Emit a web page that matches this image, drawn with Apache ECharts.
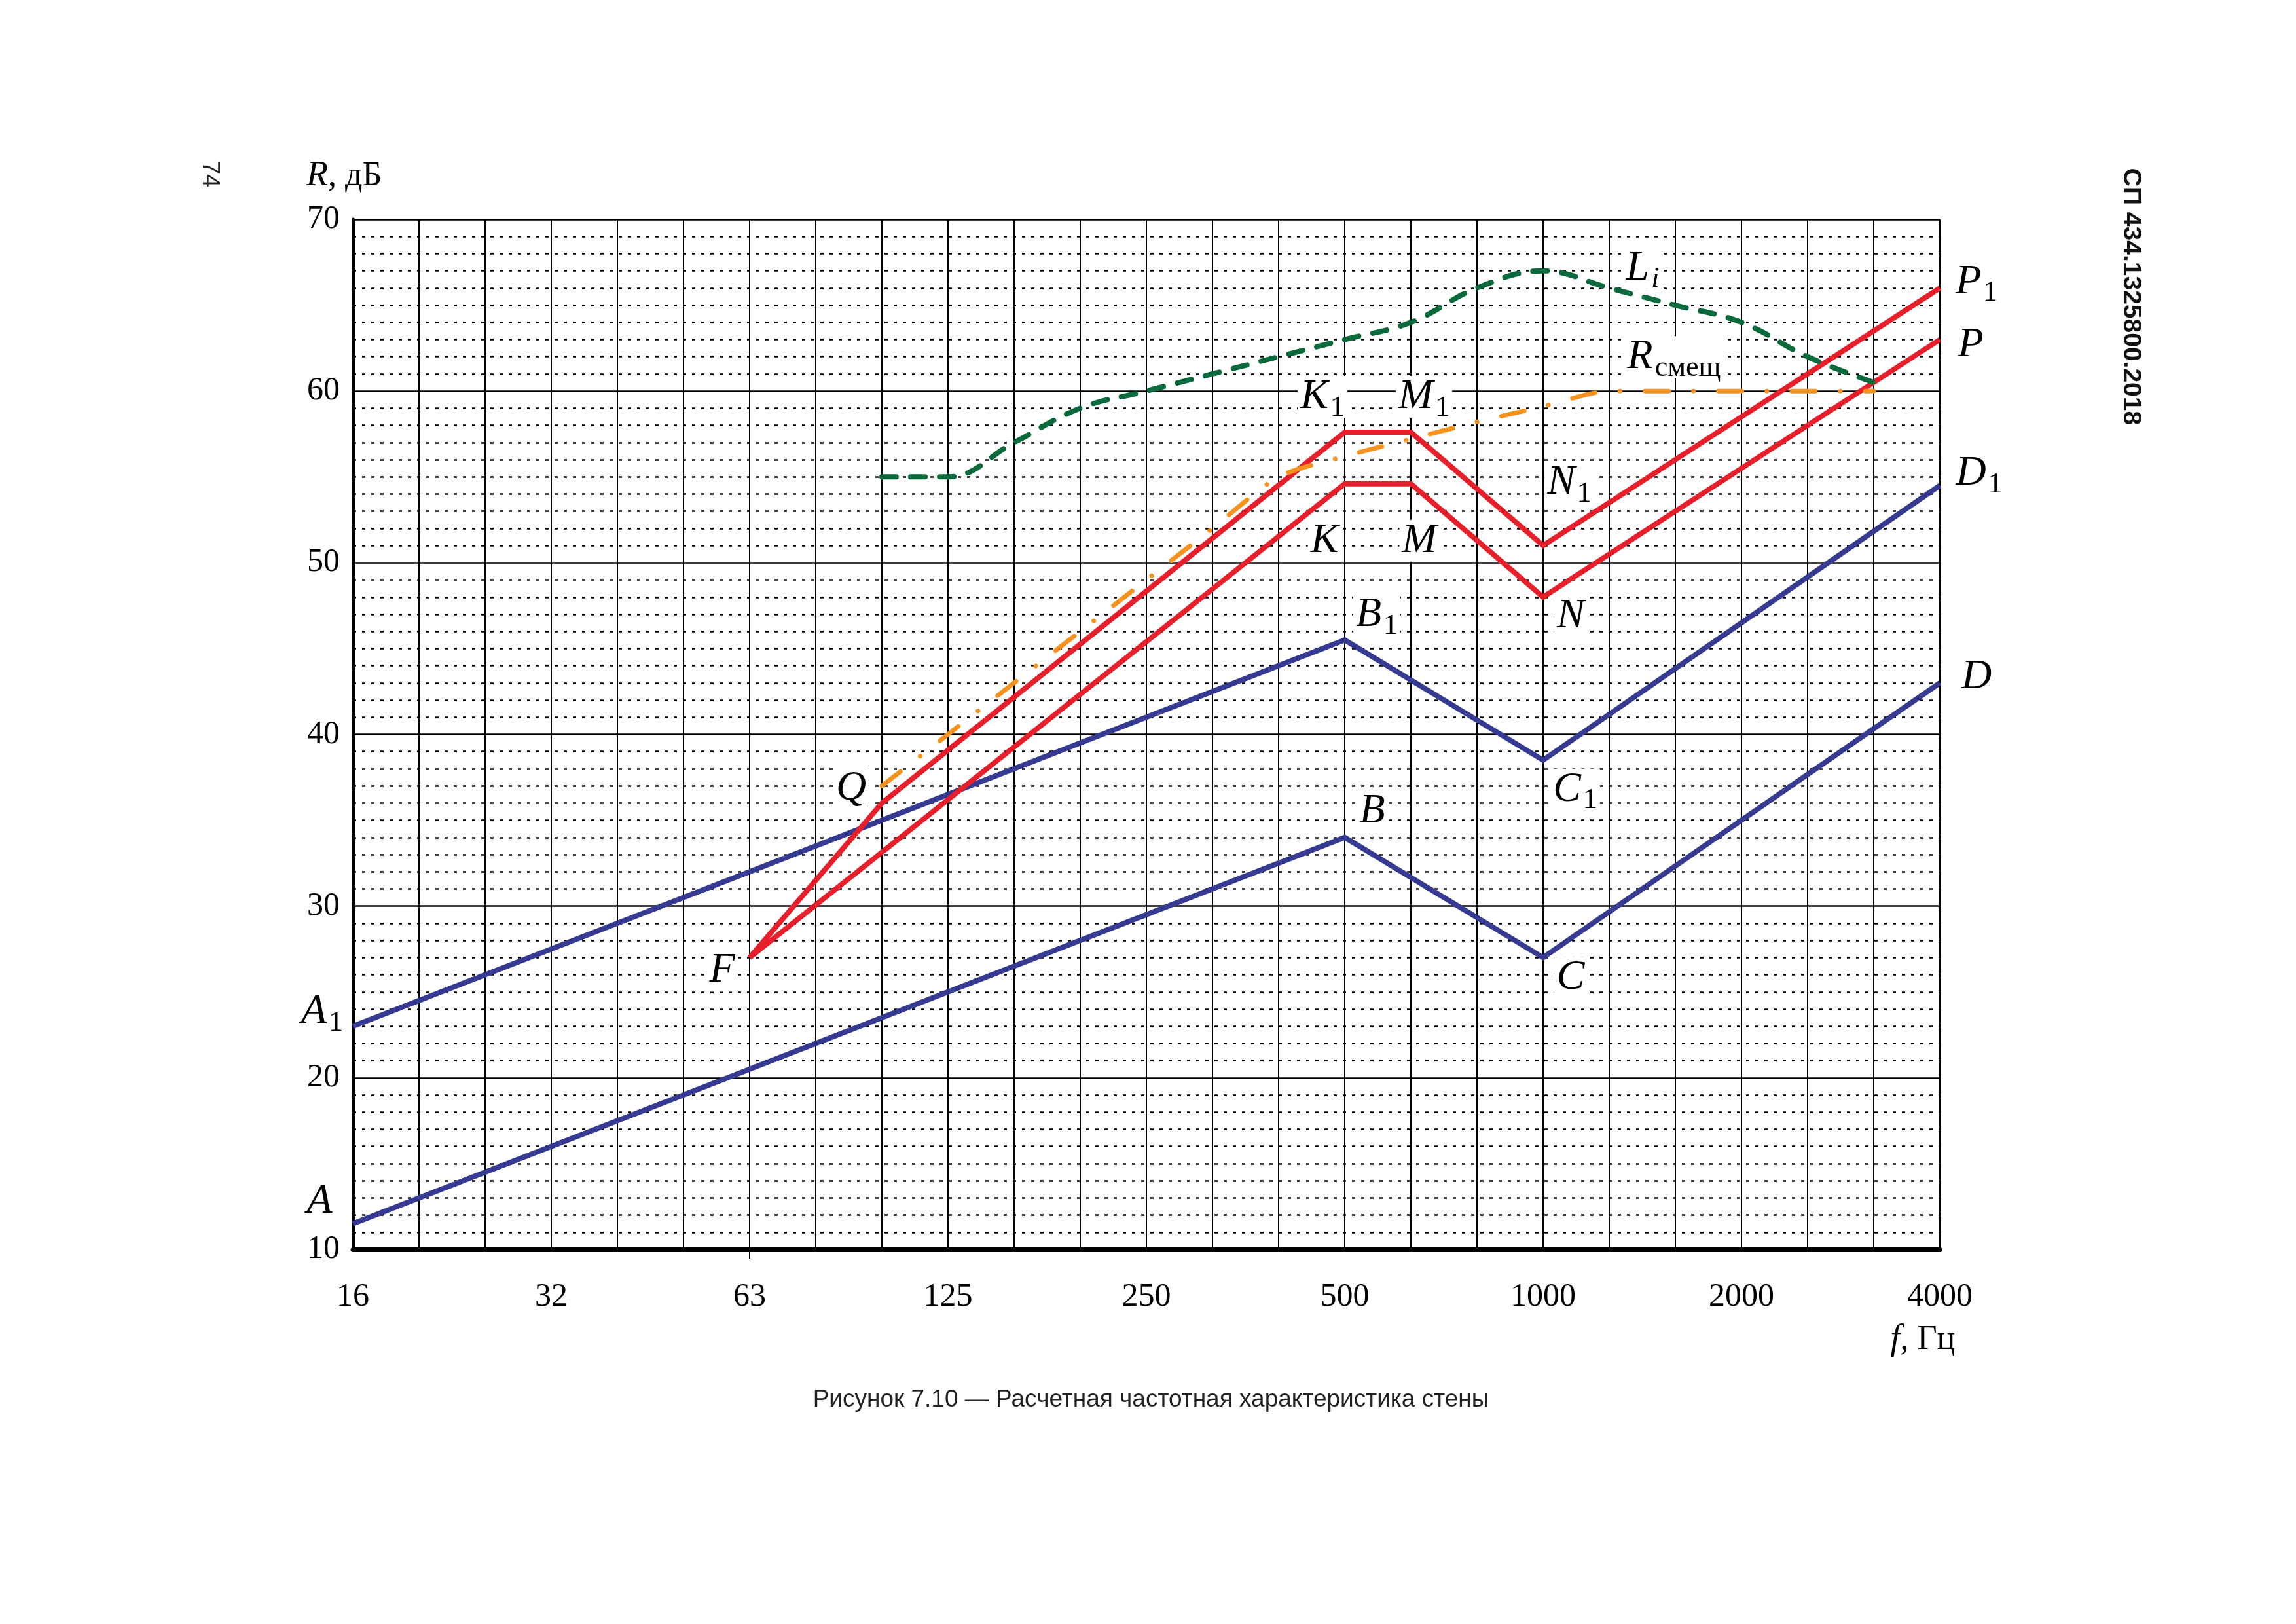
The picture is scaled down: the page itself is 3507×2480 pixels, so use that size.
<!DOCTYPE html>
<html><head><meta charset="utf-8">
<script src="https://cdn.jsdelivr.net/npm/echarts@6/dist/echarts.min.js"></script>
<style>html,body{margin:0;padding:0;background:#fff;}#c{width:3507px;height:2480px;}</style>
</head><body><div id="c"></div>
<script>
// third-octave band centres (label text as printed under the axis)
const freqBands = ['16','20','25','32','40','50','63','80','100','125','160','200','250','315','400','500','630','800','1000','1250','1600','2000','2500','3150','4000'];
const yMin = 10, yMax = 70, yStep = 10;

// single partition A-B-C-D
const abcdF = ['16','500','1000','4000'];
const abcdR = [11.5, 34, 27, 43];
const abcdNames = ['A','B','C','D'];
// single partition A1-B1-C1-D1
const a1F = ['16','500','1000','4000'];
const a1R = [23, 45.5, 38.5, 54.5];
const a1Names = ['A|1','B|1','C|1','D|1'];
// double wall F-K-M-N-P
const fkF = ['63','500','630','1000','4000'];
const fkR = [27, 54.6, 54.6, 48, 63];
const fkNames = ['F','K','M','N','P'];
// double wall F-Q-K1-M1-N1-P1
const fqF = ['63','100','500','630','1000','4000'];
const fqR = [27, 36, 57.6, 57.6, 51, 66];
const fqNames = ['','Q','K|1','M|1','N|1','P|1'];
// R смещ (dash-dot)
const rsF = ['100','125','160','200','250','315','400','500','630','800','1000','1250','1600','2000','2500','3150'];
const rsR = [37, 40, 43, 46, 49, 52, 55, 56.2, 57.2, 58.2, 59.1, 60, 60, 60, 60, 60];
// L_i (dashed)
const liF = ['100','125','160','200','250','315','400','500','630','800','1000','1250','1600','2000','2500','3150'];
const liR = [55, 55, 57, 59, 60, 61, 62, 63, 64, 66, 67, 66, 65, 64, 62, 60.5];

// label placement (pixel offsets from the point), kept apart from data
const offs = {
  A:[-51,-34], B:[42,-40], C:[42,31], D:[56,-9],
  A1:[-47,-22], B1:[49,-38], C1:[49,45], D1:[60,-18],
  F:[-42,20], K:[-31,87], M:[13,87], N:[42,29], P:[47,9],
  Q:[-47,-22], K1:[-34,-54], M1:[20,-54], N1:[40,-96], P1:[56,-9]
};

const serif = '"Liberation Serif", "DejaVu Serif", serif';
const rich = {
  m:{fontFamily:serif, fontStyle:'italic', fontSize:64, lineHeight:64, color:'#000'},
  s:{fontFamily:serif, fontSize:44, lineHeight:44, color:'#000', padding:[34,0,0,3]},
  t:{fontFamily:serif, fontStyle:'italic', fontSize:44, lineHeight:44, color:'#000', padding:[34,0,0,3]}
};
function fmt(n){ const p = n.split('|'); return '{m|' + p[0] + '}' + (p[1] ? '{s|' + p[1] + '}' : ''); }
function build(fs, rs, names){
  return fs.map((f,i)=>{
    const n = names ? names[i] : '';
    const item = {value:[f, rs[i]]};
    if (n) {
      const key = n.replace('|','');
      item.label = {show:true, formatter: fmt(n), offset: offs[key]};
    }
    return item;
  });
}
const lblBase = {show:false, position:'inside', align:'center', verticalAlign:'middle', backgroundColor:'#fff', padding:[0,4,0,4], rich:rich};
const blue = '#363a91', red = '#e61f2b', orange = '#f6921e', green = '#0b6a3b';

function lineSeries(data, color, width, z, extra){
  return Object.assign({
    type:'line', data:data, z:z, symbol:'circle', symbolSize:1, showSymbol:true,
    itemStyle:{color:'rgba(0,0,0,0)'},
    lineStyle:{color:color, width:width, join:'miter'},
    label:lblBase, emphasis:{disabled:true}, animation:false
  }, extra||{});
}

const liData = build(liF, liR, null);
liData[11].label = {show:true, formatter:'{m|L}{t|i}', offset:[51,-30]};
const rsData = build(rsF, rsR, null);
rsData[12].label = {show:true, formatter:'{m|R}{s|смещ}', offset:[-2,-52]};

const chart = echarts.init(document.getElementById('c'), null, {renderer:'canvas'});
chart.setOption({
  backgroundColor:'#fff',
  animation:false,
  grid:{left:539, top:335, width:2424, height:1573, containLabel:false},
  xAxis:{
    type:'category', data:freqBands, boundaryGap:false,
    axisLine:{show:true, onZero:false, lineStyle:{color:'#000', width:7}},
    axisTick:{show:true, interval:(i)=> i===6, length:14, inside:false, lineStyle:{color:'#000', width:2}},
    axisLabel:{interval:2, margin:48, color:'#000', fontFamily:serif, fontSize:50},
    splitLine:{show:true, interval:0, lineStyle:{color:'#000', width:2}}
  },
  yAxis:{
    type:'value', min:yMin, max:yMax, interval:yStep,
    axisLine:{show:true, lineStyle:{color:'#000', width:5}},
    axisTick:{show:false},
    axisLabel:{margin:20, color:'#000', fontFamily:serif, fontSize:50},
    splitLine:{show:true, lineStyle:{color:'#000', width:2.5}},
    minorTick:{show:false, splitNumber:10},
    minorSplitLine:{show:true, lineStyle:{color:'#000', width:2.5, type:[5,9]}}
  },
  series:[
    lineSeries(build(abcdF, abcdR, abcdNames), blue, 8, 3),
    lineSeries(build(a1F, a1R, a1Names), blue, 8, 3),
    lineSeries(build(fkF, fkR, fkNames), red, 8, 4),
    lineSeries(build(fqF, fqR, fqNames), red, 8, 4),
    lineSeries(rsData, orange, 7, 5, {smooth:0.25, lineStyle:{color:orange, width:7, type:[36,38,0.1,38], cap:'round'}}),
    lineSeries(liData, green, 8, 6, {smooth:0.4, lineStyle:{color:green, width:8, type:[22,22], cap:'round'}})
  ],
  graphic:[
    {type:'text', x:468, y:269, style:{text:'{i|R}{n|, дБ}', align:'left', verticalAlign:'middle',
      rich:{i:{fontFamily:serif, fontStyle:'italic', fontSize:54, fill:'#000'}, n:{fontFamily:serif, fontSize:52, fill:'#000'}}}},
    {type:'text', x:2937, y:2046, style:{text:'{i|f}{n|, Гц}', align:'center', verticalAlign:'middle',
      rich:{i:{fontFamily:serif, fontStyle:'italic', fontSize:54, fill:'#000'}, n:{fontFamily:serif, fontSize:52, fill:'#000'}}}},
    {type:'text', x:1758, y:2138, style:{text:'Рисунок 7.10 — Расчетная частотная характеристика стены', align:'center', verticalAlign:'middle',
      font:'37px "Liberation Sans", Arial, sans-serif', fill:'#222'}},
    {type:'text', x:320, y:266, rotation:-Math.PI/2, style:{text:'74', align:'center', verticalAlign:'middle',
      font:'36px "Liberation Sans", Arial, sans-serif', fill:'#222'}},
    {type:'text', x:3255, y:453, rotation:-Math.PI/2, style:{text:'СП 434.1325800.2018', align:'center', verticalAlign:'middle',
      font:'bold 39px "Liberation Sans", Arial, sans-serif', fill:'#111'}}
  ]
});
</script></body></html>
